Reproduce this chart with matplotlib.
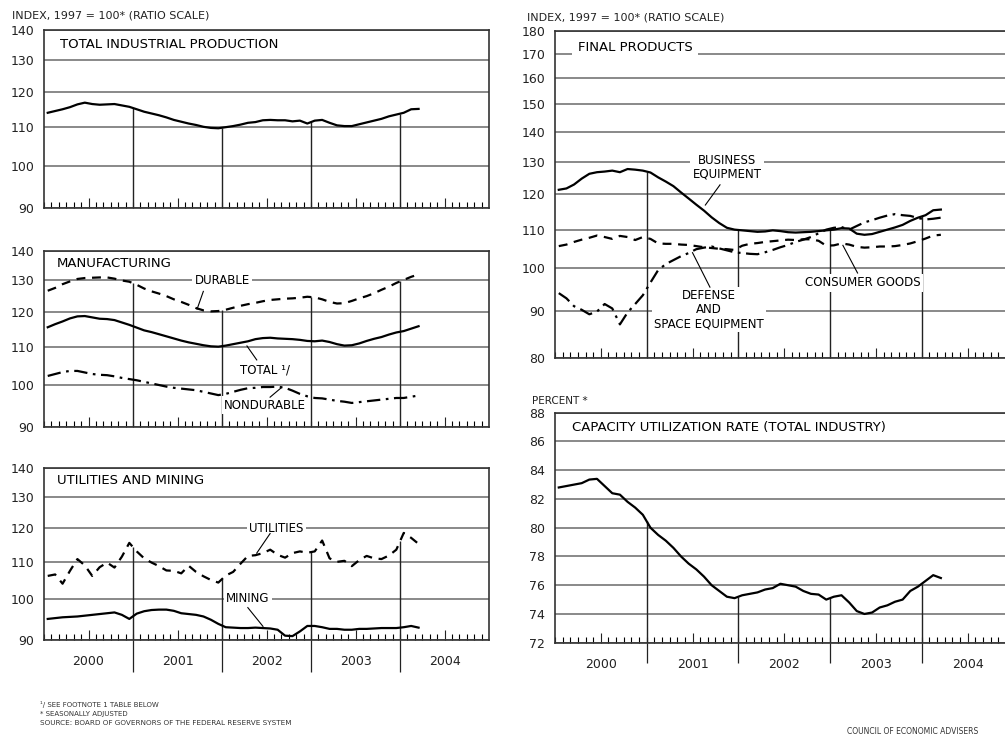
import numpy as np
import pandas as pd
import matplotlib
matplotlib.use("Agg")
import matplotlib.pyplot as plt
from matplotlib.ticker import FixedLocator, NullLocator

# --------------------------------------------------------------
# Data: monthly index values (Jan 2000 - Mar 2004)
# --------------------------------------------------------------
months = pd.date_range("2000-01-01", periods=51, freq="MS")
years = [2000, 2001, 2002, 2003, 2004]
year_labels = ["2000", "2001", "2002", "2003", "2004"]

total_ip = [114.0, 114.5, 115.0, 115.6, 116.4, 116.9, 116.5, 116.3, 116.4, 116.5, 116.1, 115.7,
            115.0, 114.3, 113.8, 113.3, 112.7, 112.0, 111.5, 111.0, 110.6, 110.1, 109.8, 109.7,
            110.0, 110.3, 110.7, 111.2, 111.4, 111.9, 112.0, 111.9, 111.9, 111.6, 111.8, 111.0,
            111.8, 112.0, 111.2, 110.5, 110.3, 110.3, 110.8, 111.3, 111.8, 112.3, 113.0, 113.5,
            114.0, 115.0, 115.1]

mfg_total = [115.6, 116.5, 117.3, 118.2, 118.8, 118.9, 118.5, 118.1, 118.0, 117.7, 117.0, 116.3,
             115.5, 114.7, 114.2, 113.6, 113.0, 112.4, 111.8, 111.3, 110.9, 110.5, 110.2, 110.1,
             110.4, 110.8, 111.2, 111.6, 112.2, 112.5, 112.6, 112.4, 112.3, 112.2, 112.0, 111.7,
             111.6, 111.8, 111.4, 110.8, 110.4, 110.5, 111.0, 111.7, 112.3, 112.8, 113.5, 114.1,
             114.5, 115.2, 115.9]

durable = [126.7, 127.6, 128.8, 129.7, 130.5, 130.8, 130.9, 131.0, 131.0, 130.6, 130.0, 129.6,
           128.6, 127.4, 126.5, 125.8, 125.0, 124.0, 123.2, 122.3, 121.3, 120.6, 120.3, 120.4,
           120.8, 121.4, 122.0, 122.5, 122.9, 123.4, 123.8, 124.0, 124.2, 124.3, 124.5, 124.8,
           124.6, 124.0, 123.2, 122.7, 122.8, 123.5, 124.3, 125.0, 125.9, 127.0, 128.0, 129.2,
           130.2, 131.2, 132.0]

nondurable = [102.3, 102.8, 103.3, 103.6, 103.6, 103.2, 102.8, 102.6, 102.5, 102.2, 101.8, 101.5,
              101.2, 100.8, 100.4, 100.0, 99.6, 99.3, 99.1, 98.9, 98.7, 98.3, 97.9, 97.5,
              97.8, 98.3, 98.8, 99.2, 99.3, 99.5, 99.5, 99.6, 99.3, 98.6, 97.8, 97.2,
              96.8, 96.7, 96.4, 96.1, 95.9, 95.6, 95.8, 96.0, 96.2, 96.4, 96.6, 96.8,
              96.8, 97.1, 97.4]

utilities = [106.1, 106.5, 104.0, 107.5, 110.8, 109.0, 106.1, 108.5, 109.8, 108.4, 111.5, 115.5,
             113.0, 111.0, 109.8, 108.8, 107.6, 107.5, 106.8, 108.9, 107.2, 106.0, 105.0, 104.3,
             106.2, 107.2, 109.5, 111.7, 111.9, 112.5, 113.5, 112.0, 111.2, 112.5, 113.0, 112.6,
             113.0, 116.2, 111.0, 110.0, 110.3, 108.8, 110.5, 111.7, 111.0, 110.8, 111.8, 113.5,
             118.5, 117.0, 115.2]

mining = [95.0, 95.2, 95.4, 95.5, 95.6, 95.8, 96.0, 96.2, 96.4, 96.6, 96.0, 95.0,
          96.3, 96.9, 97.2, 97.3, 97.3, 97.0, 96.4, 96.2, 96.0, 95.6, 94.8, 93.8,
          93.0, 92.9, 92.8, 92.8, 92.9, 92.8, 92.7, 92.4, 91.0, 90.9, 92.0, 93.3,
          93.3, 93.0, 92.6, 92.6, 92.4, 92.4, 92.6, 92.6, 92.7, 92.8, 92.8, 92.8,
          93.0, 93.3, 92.9]

business_eq = [121.4, 121.8, 123.0, 124.8, 126.3, 126.8, 127.0, 127.3, 126.8, 127.8, 127.6, 127.3,
               126.7, 125.2, 123.9, 122.5, 120.6, 118.8, 117.0, 115.3, 113.4, 111.8, 110.5, 110.0,
               109.8, 109.6, 109.4, 109.5, 109.8, 109.6, 109.3, 109.2, 109.3, 109.4, 109.6, 109.8,
               110.0, 110.4, 110.3, 108.9, 108.6, 108.8, 109.4, 110.0, 110.6, 111.3, 112.4, 113.3,
               114.0, 115.4, 115.6]

consumer_goods = [105.6, 106.0, 106.7, 107.3, 107.8, 108.4, 108.0, 107.5, 108.3, 108.0, 107.2, 108.0,
                  107.5, 106.3, 106.2, 106.2, 106.0, 105.9, 105.6, 105.3, 105.1, 104.9, 104.8, 104.6,
                  105.7, 106.2, 106.4, 106.7, 106.9, 107.1, 107.3, 107.2, 107.4, 107.4, 107.0, 105.7,
                  105.8, 106.3, 106.0, 105.4, 105.2, 105.3, 105.5, 105.5, 105.6, 105.9, 106.3, 106.9,
                  107.6, 108.4, 108.6]

defense = [94.0, 92.8, 91.0, 90.2, 89.2, 89.8, 91.5, 90.5, 87.0, 89.6, 91.5, 93.5,
           96.5, 99.5, 101.0, 102.0, 103.0, 103.8, 104.8, 105.2, 105.5, 105.0, 104.5, 104.0,
           103.8, 103.6, 103.5, 104.0, 104.6, 105.3, 105.9, 106.7, 107.3, 108.0, 109.0, 110.0,
           110.5, 110.7, 110.0, 111.0, 112.0, 112.6, 113.3, 113.9, 114.3, 114.0, 113.8, 113.2,
           112.8, 113.0, 113.3]

cap_util = [82.8, 82.9, 83.0, 83.1, 83.35, 83.4, 82.9, 82.4, 82.3, 81.8, 81.4, 80.9,
            80.0, 79.5, 79.1, 78.6, 78.0, 77.5, 77.1, 76.6, 76.0, 75.6, 75.2, 75.1,
            75.3, 75.4, 75.5, 75.7, 75.8, 76.1, 76.0, 75.9, 75.6, 75.4, 75.35, 75.0,
            75.2, 75.3, 74.8, 74.2, 74.0, 74.1, 74.45, 74.6, 74.85, 75.0, 75.6, 75.9,
            76.3, 76.7, 76.5]

idx_ticks = [90, 100, 110, 120, 130, 140]
fp_ticks = [80, 90, 100, 110, 120, 130, 140, 150, 160, 170, 180]
cu_ticks = [72, 74, 76, 78, 80, 82, 84, 86, 88]

# decimal-year position of each month (mid-month)
x = months.year + (months.month - 0.5) / 12

# --------------------------------------------------------------
# Style
# --------------------------------------------------------------
plt.rcParams['font.family'] = ['DejaVu Sans']
GRID = '#6a6a6a'
LW = 1.6
WHITE_BOX = dict(facecolor='white', edgecolor='none', pad=1.5)


def setup_axis(ax, yticks, log=True, show_years=False, sep_len=0.18):
    if log:
        ax.set_yscale('log')
    ax.set_xlim(2000, 2005)
    ax.set_ylim(yticks[0], yticks[-1])
    ax.yaxis.set_major_locator(FixedLocator(yticks))
    ax.yaxis.set_minor_locator(NullLocator())
    ax.set_yticklabels([str(t) for t in yticks])
    ax.tick_params(axis='y', length=0, pad=7, labelsize=9, colors='#222222')
    ax.grid(axis='y', color=GRID, lw=1.1)
    ax.set_axisbelow(True)

    # month ticks along the bottom, mid-year ones taller
    ax.xaxis.set_major_locator(FixedLocator([y + 0.5 for y in years]))
    ax.xaxis.set_minor_locator(FixedLocator(np.arange(2000, 2005, 1 / 12)))
    ax.tick_params(axis='x', which='major', direction='in', length=7, width=0.8,
                   pad=11, labelsize=9, colors='#222222')
    ax.tick_params(axis='x', which='minor', direction='in', length=4, width=0.8)
    if show_years:
        ax.set_xticklabels(year_labels)
        # separators between year labels below the axis
        ax.vlines(years[1:], -sep_len, 0, transform=ax.get_xaxis_transform(),
                  color='#222222', lw=0.9, clip_on=False)
    else:
        ax.tick_params(axis='x', labelbottom=False)

    for sp in ax.spines.values():
        sp.set_color('#333333')
        sp.set_linewidth(1.2)


def drop_lines(ax, series_list):
    # vertical lines at each year boundary, from the axis up to the top curve
    bounds = years[1:]
    tops = [max(np.interp(b, x, s) for s in series_list) for b in bounds]
    ax.vlines(bounds, ax.get_ylim()[0], tops, color='#222222', lw=1.0, zorder=2)


def leader(ax, x0, y0, x1, y1):
    ax.plot([x0, x1], [y0, y1], color='k', lw=0.8, zorder=4)


fig = plt.figure(figsize=(10.05, 7.39), dpi=100)

# --------------------------------------------------------------
# Left column
# --------------------------------------------------------------
ax1 = fig.add_axes([0.0438, 0.7185, 0.4428, 0.2409])
setup_axis(ax1, idx_ticks)
ax1.plot(x, total_ip, color='k', lw=LW, zorder=4)
drop_lines(ax1, [total_ip])
ax1.text(2000.18, 134.9, "TOTAL INDUSTRIAL PRODUCTION", fontsize=9.5,
         va='center', ha='left', bbox=WHITE_BOX, zorder=3)

ax2 = fig.add_axes([0.0438, 0.4222, 0.4428, 0.2382])
setup_axis(ax2, idx_ticks)
ax2.plot(x, durable, color='k', lw=LW, ls=(0, (4, 3)), zorder=4)
ax2.plot(x, mfg_total, color='k', lw=LW, zorder=4)
ax2.plot(x, nondurable, color='k', lw=LW, ls=(0, (6, 2.5, 1.2, 2.5)), zorder=4)
drop_lines(ax2, [durable, mfg_total, nondurable])
ax2.text(2000.146, 135.8, "MANUFACTURING", fontsize=9.5, va='center', ha='left',
         bbox=WHITE_BOX, zorder=3)
ax2.text(2002.0, 130, "DURABLE", fontsize=8.5, va='center', ha='center',
         bbox=WHITE_BOX, zorder=3)
leader(ax2, 2001.79, 126.5, 2001.72, 121.0)
ax2.text(2002.20, 103.8, "TOTAL \u00b9/", fontsize=8.5, va='center', ha='left',
         bbox=WHITE_BOX, zorder=3)
leader(ax2, 2002.39, 106.5, 2002.28, 110.3)
ax2.text(2002.48, 95.1, "NONDURABLE", fontsize=8.5, va='center', ha='center',
         bbox=WHITE_BOX, zorder=3)
leader(ax2, 2002.54, 97.0, 2002.67, 99.4)

ax3 = fig.add_axes([0.0438, 0.134, 0.4428, 0.2327])
setup_axis(ax3, idx_ticks, show_years=True, sep_len=0.186)
ax3.plot(x, utilities, color='k', lw=LW, ls=(0, (4, 3)), zorder=4)
ax3.plot(x, mining, color='k', lw=LW, zorder=4)
drop_lines(ax3, [utilities, mining])
ax3.text(2000.146, 135.7, "UTILITIES AND MINING", fontsize=9.5, va='center', ha='left',
         bbox=WHITE_BOX, zorder=3)
ax3.text(2002.61, 120, "UTILITIES", fontsize=8.5, va='center', ha='center',
         bbox=WHITE_BOX, zorder=3)
leader(ax3, 2002.54, 118.3, 2002.39, 112.5)
ax3.text(2002.29, 100, "MINING", fontsize=8.5, va='center', ha='center',
         bbox=WHITE_BOX, zorder=3)
leader(ax3, 2002.29, 97.8, 2002.46, 93.2)

# --------------------------------------------------------------
# Right column (runs off the right edge like the scan)
# --------------------------------------------------------------
ax4 = fig.add_axes([0.5522, 0.5152, 0.4562, 0.4433])
setup_axis(ax4, fp_ticks)
ax4.plot(x, business_eq, color='k', lw=LW, zorder=4)
ax4.plot(x, consumer_goods, color='k', lw=LW, ls=(0, (4, 3)), zorder=4)
ax4.plot(x, defense, color='k', lw=LW, ls=(0, (6, 2.5, 1.2, 2.5)), zorder=4)
drop_lines(ax4, [business_eq, consumer_goods, defense])
ax4.text(2000.25, 172.5, "FINAL PRODUCTS", fontsize=9.5, va='center', ha='left',
         bbox=dict(facecolor='white', edgecolor='none', pad=4), zorder=3)
ax4.text(2001.876, 128.3, "BUSINESS\nEQUIPMENT", fontsize=8.5, va='center', ha='center',
         linespacing=1.1, bbox=WHITE_BOX, zorder=3)
leader(ax4, 2001.80, 122.9, 2001.64, 116.9)
ax4.text(2001.68, 90.2, "DEFENSE\nAND\nSPACE EQUIPMENT", fontsize=8.5, va='center',
         ha='center', linespacing=1.1, bbox=WHITE_BOX, zorder=3)
leader(ax4, 2001.69, 95.4, 2001.50, 103.9)
ax4.text(2003.36, 96.4, "CONSUMER GOODS", fontsize=8.5, va='center', ha='center',
         bbox=WHITE_BOX, zorder=3)
leader(ax4, 2003.30, 98.8, 2003.14, 105.8)

ax5 = fig.add_axes([0.5522, 0.1303, 0.4562, 0.3112])
setup_axis(ax5, cu_ticks, log=False, show_years=True, sep_len=0.087)
ax5.plot(x, cap_util, color='k', lw=LW, zorder=4)
drop_lines(ax5, [cap_util])
ax5.text(2000.185, 86.94, "CAPACITY UTILIZATION RATE (TOTAL INDUSTRY)", fontsize=9.5,
         va='center', ha='left', bbox=WHITE_BOX, zorder=3)

# --------------------------------------------------------------
# Headers and footnotes
# --------------------------------------------------------------
fig.text(12 / 1005, 1 - 15 / 739, "INDEX, 1997 = 100* (RATIO SCALE)", fontsize=8,
         va='center', ha='left', color='#222222')
fig.text(527 / 1005, 1 - 17 / 739, "INDEX, 1997 = 100* (RATIO SCALE)", fontsize=8,
         va='center', ha='left', color='#222222')
fig.text(532 / 1005, 1 - 401 / 739, "PERCENT *", fontsize=7.5, va='center', ha='left',
         color='#222222')

fig.text(40 / 1005, 1 - 705 / 739, "\u00b9/ SEE FOOTNOTE 1 TABLE BELOW", fontsize=5,
         va='center', ha='left', color='#333333')
fig.text(40 / 1005, 1 - 714 / 739, "* SEASONALLY ADJUSTED", fontsize=5,
         va='center', ha='left', color='#333333')
fig.text(40 / 1005, 1 - 723 / 739, "SOURCE: BOARD OF GOVERNORS OF THE FEDERAL RESERVE SYSTEM",
         fontsize=5.2, va='center', ha='left', color='#333333')
fig.text(847 / 1005, 1 - 731 / 739, "COUNCIL OF ECONOMIC ADVISERS", fontsize=5.5,
         va='center', ha='left', color='#333333')

fig.savefig("out.png", dpi=100, facecolor='white')
